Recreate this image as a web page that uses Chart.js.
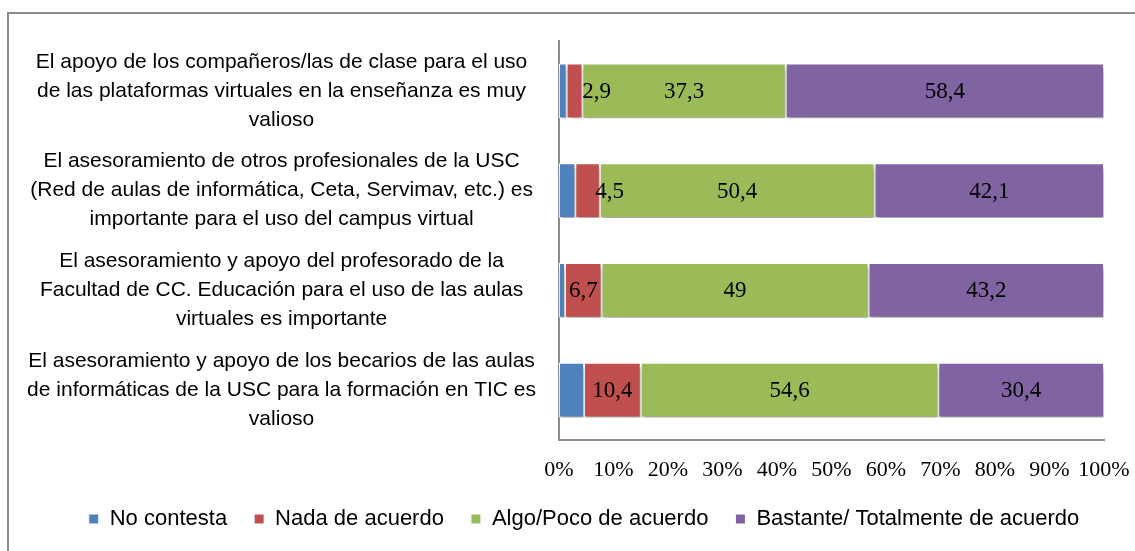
<!DOCTYPE html>
<html>
<head>
<meta charset="utf-8">
<script src="https://cdn.jsdelivr.net/npm/chart.js@4.4.1/dist/chart.umd.min.js"></script>
<style>
  html, body { margin: 0; padding: 0; background: #fff; overflow: hidden; }
  #wrap { position: relative; width: 1135px; height: 551px; }
  #marco { position: absolute; left: 7px; top: 12px; width: 1200px; height: 600px;
           border-left: 2px solid #8c8c8c; border-top: 2px solid #8c8c8c; }
  canvas { position: absolute; left: 0; top: 0; }
</style>
</head>
<body>
<div id="wrap">
  <div id="marco"></div>
  <canvas id="grafico" width="1135" height="551"></canvas>
</div>
<script>
// Datos (porcentaje por respuesta)
const categorias = [
  ['El apoyo de los compañeros/las de clase para el uso', 'de las plataformas virtuales en la enseñanza es muy', 'valioso'],
  ['El asesoramiento de otros profesionales de la USC', '(Red de aulas de informática, Ceta, Servimav, etc.) es', 'importante para el uso del campus virtual'],
  ['El asesoramiento y apoyo del profesorado de la', 'Facultad de CC. Educación para el uso de las aulas', 'virtuales es importante'],
  ['El asesoramiento y apoyo de los becarios de las aulas', 'de informáticas de la USC para la formación en TIC es', 'valioso']
]
const noContesta = [1.4, 3.0, 1.1, 4.6]
const nadaAcuerdo = [2.9, 4.5, 6.7, 10.4]
const algoPoco = [37.3, 50.4, 49, 54.6]
const bastante = [58.4, 42.1, 43.2, 30.4]
const ticksX = [0, 10, 20, 30, 40, 50, 60, 70, 80, 90, 100]

const series = [
  { label: 'No contesta', data: noContesta, color: '#4F81BD', etiqueta: false },
  { label: 'Nada de acuerdo', data: nadaAcuerdo, color: '#C0504D', etiqueta: true },
  { label: 'Algo/Poco de acuerdo', data: algoPoco, color: '#9BBB59', etiqueta: true },
  { label: 'Bastante/ Totalmente de acuerdo', data: bastante, color: '#8064A2', etiqueta: true }
]

const SERIF = '"Liberation Serif", "Times New Roman", serif'
const SANS = '"Liberation Sans", Arial, sans-serif'

function fmt(v) {
  return String(v).replace('.', ',')
}

// sombra de las barras + etiquetas de valor
const pluginBarras = {
  id: 'barras',
  afterLayout(chart) {
    // la leyenda del original queda algo desplazada a la derecha
    chart.legend.left += 32
    chart.legend.right += 32
  },
  beforeDatasetsDraw(chart) {
    const ctx = chart.ctx
    ctx.save()
    ctx.shadowColor = 'rgba(0,0,0,0.35)'
    ctx.shadowBlur = 4
    ctx.shadowOffsetX = 1
    ctx.shadowOffsetY = 4
  },
  afterDatasetsDraw(chart) {
    const ctx = chart.ctx
    ctx.restore()
    ctx.save()
    ctx.font = '23px ' + SERIF
    ctx.fillStyle = '#000'
    ctx.textAlign = 'center'
    ctx.textBaseline = 'middle'
    chart.data.datasets.forEach((ds, i) => {
      if (!series[i].etiqueta) return
      chart.getDatasetMeta(i).data.forEach((bar, j) => {
        const txt = fmt(ds.data[j])
        const ancho = Math.abs(bar.x - bar.base)
        let x = (bar.x + bar.base) / 2
        if (ctx.measureText(txt).width > ancho - 4) x += 22
        ctx.fillText(txt, x, bar.y + 1)
      })
    })
    ctx.restore()
  }
}

new Chart(document.getElementById('grafico'), {
  type: 'bar',
  data: {
    labels: categorias,
    datasets: series.map(s => ({
      label: s.label,
      data: s.data,
      backgroundColor: s.color,
      borderColor: '#ffffff',
      borderWidth: 1,
      borderSkipped: false,
      categoryPercentage: 1,
      barPercentage: 0.55
    }))
  },
  options: {
    indexAxis: 'y',
    responsive: false,
    animation: false,
    layout: { padding: { top: 41, right: 31, bottom: 11, left: 0 } },
    plugins: {
      tooltip: { enabled: false },
      legend: {
        position: 'bottom',
        labels: {
          boxWidth: 10,
          boxHeight: 10,
          padding: 27,
          color: '#000',
          font: { family: SANS, size: 22 }
        }
      }
    },
    scales: {
      x: {
        stacked: true,
        min: 0,
        max: 100,
        afterBuildTicks: s => { s.ticks = ticksX.map(v => ({ value: v })) },
        grid: { display: false, drawTicks: false },
        border: { display: true, color: '#8c8c8c', width: 2 },
        afterFit: s => { s.height = 41; s.paddingLeft = 0; s.paddingRight = 0 },
        ticks: {
          padding: 17,
          maxRotation: 0,
          minRotation: 0,
          autoSkip: false,
          color: '#000',
          font: { family: SERIF, size: 22 },
          callback: v => v + '%'
        }
      },
      y: {
        stacked: true,
        grid: { display: false, drawTicks: false },
        border: { display: true, color: '#8c8c8c', width: 2 },
        afterFit: s => { s.width = 559; s.paddingTop = 0; s.paddingBottom = 0 },
        ticks: {
          crossAlign: 'center',
          autoSkip: false,
          padding: 23,
          color: '#000',
          font: { family: SANS, size: 21, lineHeight: 1.38 }
        }
      }
    }
  },
  plugins: [pluginBarras]
})
</script>
</body>
</html>
